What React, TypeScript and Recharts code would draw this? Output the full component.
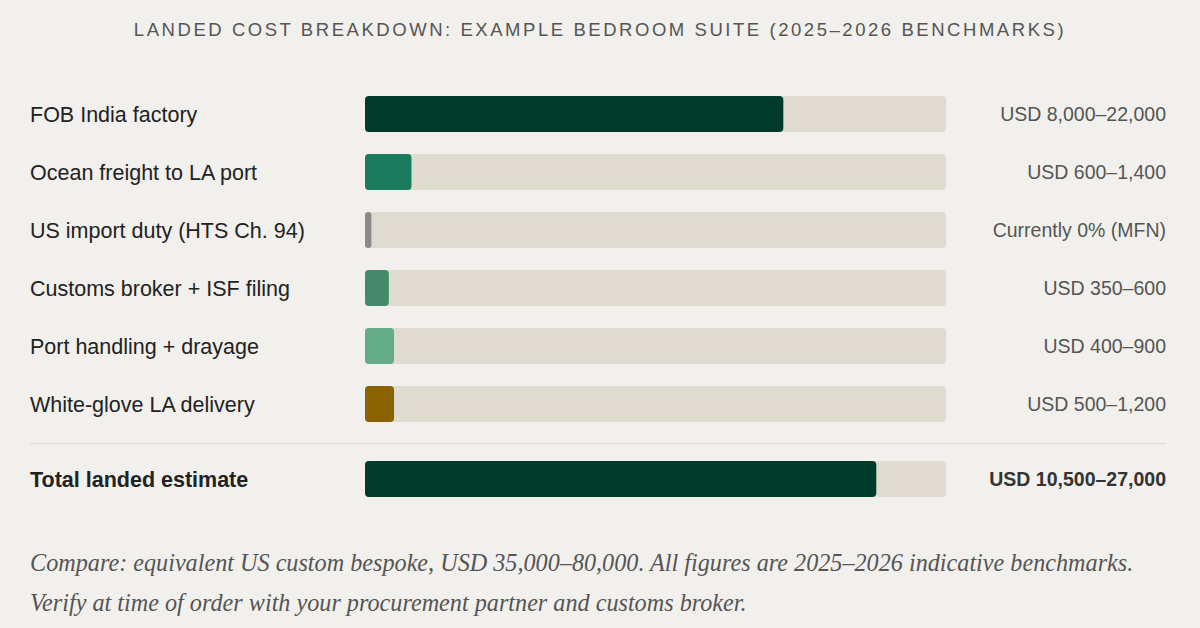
import { BarChart, Bar, XAxis, YAxis, Cell } from 'recharts'

// Cost lines, their ranges and the share of the scale each bar fills (percent)
const costLines = [
  'FOB India factory',
  'Ocean freight to LA port',
  'US import duty (HTS Ch. 94)',
  'Customs broker + ISF filing',
  'Port handling + drayage',
  'White-glove LA delivery',
]
const costRanges = [
  'USD 8,000–22,000',
  'USD 600–1,400',
  'Currently 0% (MFN)',
  'USD 350–600',
  'USD 400–900',
  'USD 500–1,200',
]
const costShares = [72, 8, 1.1, 4.1, 5, 5]
const costColors = ['#003a2b', '#1a7a5b', '#8c8a88', '#43896a', '#64ac89', '#8a6200']

const totalLines = ['Total landed estimate']
const totalRanges = ['USD 10,500–27,000']
const totalShares = [88]

const BG = '#f1f0ec'
const TRACK = '#dfdbd0'
const SANS = '"Liberation Sans", Arial, Helvetica, sans-serif'
const WIDTH = 1200
const LABEL_COL = 365
const VALUE_COL = 254

const costData = costLines.map((name, i) => ({
  name,
  range: costRanges[i],
  share: costShares[i],
}))
const totalData = totalLines.map((name, i) => ({
  name,
  range: totalRanges[i],
  share: totalShares[i],
}))

function LeftTick({ y, payload, bold }: any) {
  return (
    <text
      x={30}
      y={y}
      dy="0.35em"
      textAnchor="start"
      fontFamily={SANS}
      fontSize={21.5}
      fontWeight={bold ? 700 : 400}
      fill="#222"
    >
      {payload.value}
    </text>
  )
}

function RightTick({ y, payload, bold }: any) {
  return (
    <text
      x={WIDTH - 34}
      y={y}
      dy="0.35em"
      textAnchor="end"
      fontFamily={SANS}
      fontSize={19.5}
      fontWeight={bold ? 700 : 400}
      fill={bold ? '#333' : '#555'}
    >
      {payload.value}
    </text>
  )
}

function RowChart({
  data,
  colors,
  bold,
}: {
  data: Array<{ name: string; range: string; share: number }>
  colors: string[]
  bold?: boolean
}) {
  return (
    <BarChart
      width={WIDTH}
      height={data.length * 58}
      data={data}
      layout="vertical"
      margin={{ top: 0, right: 0, bottom: 0, left: 0 }}
      barCategoryGap={0}
    >
      <XAxis type="number" domain={[0, 100]} hide />
      <YAxis
        yAxisId="left"
        type="category"
        dataKey="name"
        width={LABEL_COL}
        axisLine={false}
        tickLine={false}
        tick={<LeftTick bold={bold} />}
      />
      <YAxis
        yAxisId="right"
        orientation="right"
        type="category"
        dataKey="range"
        width={VALUE_COL}
        axisLine={false}
        tickLine={false}
        tick={<RightTick bold={bold} />}
      />
      <Bar
        yAxisId="left"
        dataKey="share"
        barSize={36}
        radius={4}
        background={{ fill: TRACK, radius: 4 }}
        isAnimationActive={false}
      >
        {data.map((d, i) => (
          <Cell key={d.name} fill={colors[i]} />
        ))}
      </Bar>
    </BarChart>
  )
}

export default function App() {
  return (
    <div
      style={{
        position: 'fixed',
        left: 0,
        top: 0,
        width: WIDTH,
        height: 628,
        background: BG,
        overflow: 'hidden',
      }}
    >
      <div
        style={{
          position: 'absolute',
          top: 19,
          left: 0,
          width: WIDTH,
          textAlign: 'center',
          fontFamily: SANS,
          fontSize: 18.5,
          letterSpacing: 2.55,
          color: '#555',
        }}
      >
        LANDED COST BREAKDOWN: EXAMPLE BEDROOM SUITE (2025–2026 BENCHMARKS)
      </div>

      <div style={{ position: 'absolute', top: 85, left: 0 }}>
        <RowChart data={costData} colors={costColors} />
      </div>

      <div
        style={{
          position: 'absolute',
          top: 443,
          left: 30,
          width: WIDTH - 64,
          borderTop: '1px solid #dedbd3',
        }}
      />

      <div style={{ position: 'absolute', top: 450, left: 0 }}>
        <RowChart data={totalData} colors={['#003a2b']} bold />
      </div>

      <div
        style={{
          position: 'absolute',
          top: 543,
          left: 30,
          width: 1160,
          fontFamily: '"Liberation Serif", "DejaVu Serif", Georgia, serif',
          fontStyle: 'italic',
          fontSize: 24.2,
          lineHeight: '40px',
          color: '#555',
          whiteSpace: 'nowrap',
        }}
      >
        Compare: equivalent US custom bespoke, USD 35,000–80,000. All figures are 2025–2026
        indicative benchmarks.
        <br />
        Verify at time of order with your procurement partner and customs broker.
      </div>
    </div>
  )
}
